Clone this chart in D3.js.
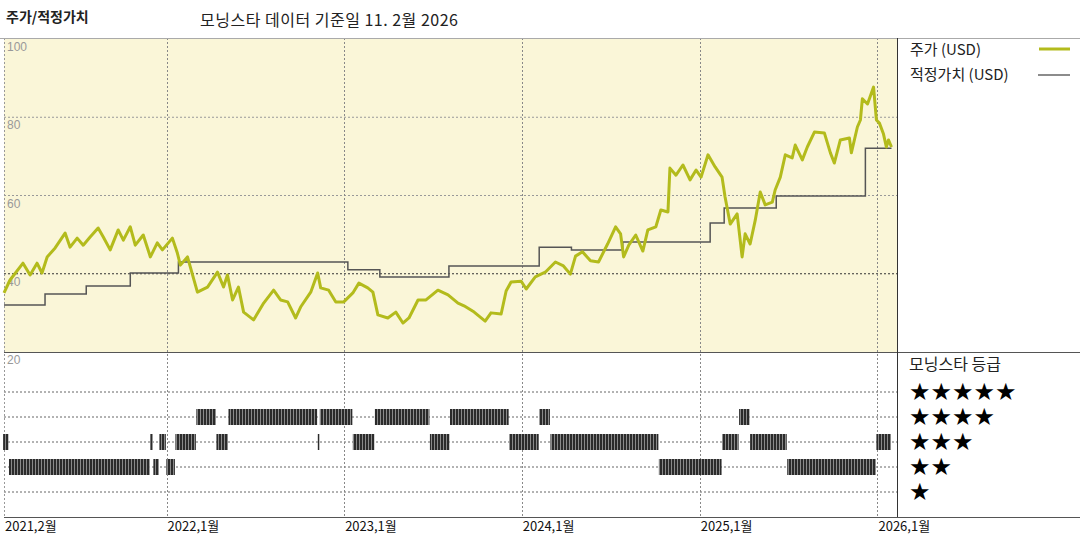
<!DOCTYPE html>
<html>
<head>
<meta charset="utf-8">
<script src="https://cdn.jsdelivr.net/npm/d3@7"></script>
<style>
  body { margin: 0; background: #fff; }
  text { font-family: "Noto Sans CJK KR", "DejaVu Sans", sans-serif; }
</style>
</head>
<body>
<div id="chart"></div>
<script>
// price, decimal year / USD
var priceT = [2021.085,2021.119,2021.192,2021.232,2021.271,2021.299,2021.328,2021.373,2021.429,2021.457,2021.497,2021.531,2021.570,2021.615,2021.644,2021.683,2021.728,2021.757,2021.796,2021.824,2021.869,2021.909,2021.948,2021.977,2022.033,2022.061,2022.078,2022.118,2022.174,2022.231,2022.287,2022.321,2022.343,2022.372,2022.405,2022.434,2022.490,2022.547,2022.603,2022.642,2022.682,2022.727,2022.755,2022.812,2022.851,2022.868,2022.913,2022.953,2022.998,2023.049,2023.083,2023.133,2023.162,2023.190,2023.246,2023.291,2023.331,2023.365,2023.416,2023.461,2023.528,2023.585,2023.641,2023.675,2023.732,2023.794,2023.827,2023.884,2023.912,2023.940,2023.997,2024.025,2024.076,2024.132,2024.189,2024.234,2024.273,2024.302,2024.341,2024.386,2024.431,2024.482,2024.527,2024.555,2024.572,2024.601,2024.640,2024.680,2024.708,2024.753,2024.781,2024.821,2024.832,2024.866,2024.905,2024.945,2024.979,2025.007,2025.046,2025.086,2025.125,2025.142,2025.171,2025.210,2025.238,2025.255,2025.283,2025.312,2025.340,2025.368,2025.408,2025.424,2025.453,2025.481,2025.520,2025.537,2025.577,2025.605,2025.645,2025.701,2025.735,2025.757,2025.791,2025.842,2025.853,2025.887,2025.904,2025.915,2025.944,2025.978,2025.994,2026.011,2026.034,2026.050,2026.062,2026.079];
var priceV = [35.1,38.4,42.7,39.7,42.7,40.2,44.3,46.6,50.4,46.8,49.1,47.3,49.4,51.7,49.4,46.1,51.2,48.6,52.0,47.3,49.9,44.3,47.9,46.1,49.1,45.3,42.2,44.3,35.3,36.6,40.4,36.6,39.7,33.3,36.6,30.2,28.2,32.5,35.8,33.3,32.8,28.7,31.5,35.3,40.2,36.4,35.8,32.8,32.8,35.1,37.6,36.4,35.3,29.5,28.7,30.2,27.4,28.7,33.3,33.3,35.8,34.6,32.5,31.8,30.2,27.9,30.0,29.7,35.6,37.9,38.1,36.1,39.2,40.4,43.0,42.0,39.9,44.5,45.6,43.3,43.0,47.6,52.0,50.2,44.3,47.3,49.9,45.8,51.2,52.0,56.3,55.8,67.0,65.2,67.8,64.0,66.5,64.7,70.4,67.3,64.7,59.6,52.7,55.3,44.3,50.2,47.6,53.7,60.9,57.6,58.3,61.4,64.7,70.4,69.6,72.9,69.1,72.4,76.2,76.0,70.9,68.3,74.2,74.7,70.9,77.5,79.3,84.7,83.4,87.7,79.3,78.5,75.7,72.4,74.2,72.4];

// fair value steps
var fairT = [2021.085,2021.316,2021.548,2021.796,2022.067,2023.021,2023.201,2023.590,2024.098,2024.279,2024.567,2025.058,2025.137,2025.430,2025.932,2026.079];
var fairV = [32.0,34.8,36.9,40.2,43.0,41.0,39.2,42.0,46.8,46.1,48.1,53.0,56.8,59.9,72.1,72.1];

// star rating periods
var ratingStart = [2021.080,2021.113,2021.909,2021.926,2021.960,2021.999,2022.050,2022.168,2022.281,2022.349,2022.851,2022.863,2023.049,2023.173,2023.483,2023.596,2023.929,2024.098,2024.161,2024.770,2025.125,2025.221,2025.283,2025.492,2025.994];
var ratingEnd   = [2021.113,2021.909,2021.926,2021.960,2021.999,2022.050,2022.168,2022.281,2022.349,2022.851,2022.863,2023.049,2023.173,2023.483,2023.596,2023.929,2024.098,2024.161,2024.770,2025.125,2025.221,2025.283,2025.492,2025.994,2026.079];
var ratingStars = [3,2,3,2,3,2,3,4,3,4,3,4,3,4,3,4,3,4,3,2,3,4,3,2,3];

var yearTicks = [2022, 2023, 2024, 2025, 2026];
var xLabels = ['2021,2월', '2022,1월', '2023,1월', '2024,1월', '2025,1월', '2026,1월'];
var yTicks = [100, 80, 60, 40, 20];

function toDate(t) {
    var y = Math.floor(t), s = new Date(y, 0, 1), e = new Date(y + 1, 0, 1);
    return new Date(+s + (t - y) * (e - s));
}

var W = 1080, H = 540,
    left = 4, right = 897,
    top1 = 38, bot1 = 352, bot2 = 517;

var svg = d3.select('#chart').append('svg')
    .attr('width', W).attr('height', H);

var x = d3.scaleTime().domain([toDate(2021.085), toDate(2026.11)]).range([left, right]);
var y = d3.scaleLinear().domain([20, 100]).range([bot1, top1 + 1]);
var yr = d3.scaleLinear().domain([1, 5]).range([492, 392]);

svg.append('rect').attr('x', left).attr('y', top1).attr('width', right - left).attr('height', bot1 - top1)
    .attr('fill', '#faf6d8');

// horizontal grid, price panel
yTicks.slice(1, 4).forEach(function (v) {
    svg.append('line').attr('x1', left).attr('x2', right).attr('y1', y(v)).attr('y2', y(v))
        .attr('stroke', v === 40 ? '#333' : '#999').attr('stroke-dasharray', '2,2').attr('stroke-width', 1);
});
yTicks.forEach(function (v) {
    svg.append('text').attr('x', left + 3).attr('y', y(v) + 12).text(v)
        .attr('font-size', 12).attr('fill', '#999').style('font-family', 'Arial, Liberation Sans, sans-serif');
});

// rating grid
[5, 4, 3, 2, 1].forEach(function (s) {
    svg.append('line').attr('x1', left).attr('x2', right).attr('y1', yr(s)).attr('y2', yr(s))
        .attr('stroke', '#666').attr('stroke-dasharray', '2,2');
});

// vertical grid
yearTicks.forEach(function (yy) {
    var xx = Math.round(x(new Date(yy, 0, 1))) + 0.5;
    svg.append('line').attr('x1', xx).attr('x2', xx).attr('y1', top1).attr('y2', bot2)
        .attr('stroke', '#888').attr('stroke-dasharray', '2,2');
});
svg.append('line').attr('x1', left + 0.5).attr('x2', left + 0.5).attr('y1', top1).attr('y2', bot2)
    .attr('stroke', '#999').attr('stroke-dasharray', '2,2');

// rating bars with stripe pattern
var pat = svg.append('defs').append('pattern').attr('id', 'stripe')
    .attr('patternUnits', 'userSpaceOnUse').attr('width', 3).attr('height', 10);
pat.append('rect').attr('width', 3).attr('height', 10).attr('fill', '#2b2b2b');
pat.append('rect').attr('x', 2).attr('width', 1).attr('height', 10).attr('fill', '#8a8a8a');

svg.selectAll('.rating').data(ratingStars).enter().append('rect')
    .attr('x', function (d, i) { return x(toDate(ratingStart[i])); })
    .attr('width', function (d, i) { return Math.max(1.5, x(toDate(ratingEnd[i])) - x(toDate(ratingStart[i])) - 0.5); })
    .attr('y', function (d) { return yr(d) - 8; })
    .attr('height', 16)
    .attr('fill', 'url(#stripe)');

// fair value
var fair = fairT.map(function (t, i) { return { date: toDate(t), v: fairV[i] }; });
svg.append('path').datum(fair)
    .attr('d', d3.line().curve(d3.curveStepAfter).x(function (d) { return x(d.date); }).y(function (d) { return y(d.v); }))
    .attr('fill', 'none').attr('stroke', '#555').attr('stroke-width', 1.5);

// price
var price = priceT.map(function (t, i) { return { date: toDate(t), v: priceV[i] }; });
svg.append('path').datum(price)
    .attr('d', d3.line().x(function (d) { return x(d.date); }).y(function (d) { return y(d.v); }))
    .attr('fill', 'none').attr('stroke', '#b3bb1c').attr('stroke-width', 3).attr('stroke-linejoin', 'round');

// frame
svg.append('line').attr('x1', 0).attr('x2', W).attr('y1', top1 + 0.5).attr('y2', top1 + 0.5).attr('stroke', '#aaa');
svg.append('line').attr('x1', left).attr('x2', W).attr('y1', bot1 + 0.5).attr('y2', bot1 + 0.5).attr('stroke', '#555');
svg.append('line').attr('x1', left).attr('x2', W).attr('y1', bot2 + 0.5).attr('y2', bot2 + 0.5).attr('stroke', '#555');
svg.append('line').attr('x1', right + 0.5).attr('x2', right + 0.5).attr('y1', top1).attr('y2', bot2).attr('stroke', '#333');

// x labels
var xPos = [toDate(2021.085)].concat(yearTicks.map(function (yy) { return new Date(yy, 0, 1); }));
xLabels.forEach(function (lab, i) {
    svg.append('text').attr('x', x(xPos[i]) + 1).attr('y', 531).text(lab)
        .attr('font-size', 13).attr('fill', '#111');
});

// titles
svg.append('text').attr('x', 6).attr('y', 22).text('주가/적정가치')
    .attr('font-size', 14).attr('font-weight', 'bold').attr('fill', '#222');
svg.append('text').attr('x', 200).attr('y', 26).text('모닝스타 데이터 기준일 11. 2월 2026')
    .attr('font-size', 16).attr('fill', '#222').attr('letter-spacing', 0.5);

// legend
svg.append('text').attr('x', 910).attr('y', 55).text('주가 (USD)').attr('font-size', 15).attr('fill', '#222');
svg.append('line').attr('x1', 1039).attr('x2', 1070).attr('y1', 49).attr('y2', 49)
    .attr('stroke', '#b3bb1c').attr('stroke-width', 3);
svg.append('text').attr('x', 910).attr('y', 80).text('적정가치 (USD)').attr('font-size', 15).attr('fill', '#222');
svg.append('line').attr('x1', 1038).attr('x2', 1070).attr('y1', 75).attr('y2', 75)
    .attr('stroke', '#666').attr('stroke-width', 1.5);

svg.append('text').attr('x', 909).attr('y', 370).text('모닝스타 등급').attr('font-size', 16).attr('fill', '#222');
[5, 4, 3, 2, 1].forEach(function (s) {
    svg.append('text').attr('x', 909).attr('y', yr(s) + 8).text(d3.range(s).map(function () { return '★'; }).join(''))
        .attr('font-size', 24).attr('fill', '#000').style('font-family', 'DejaVu Sans').attr('letter-spacing', 0);
});
</script>
</body>
</html>
